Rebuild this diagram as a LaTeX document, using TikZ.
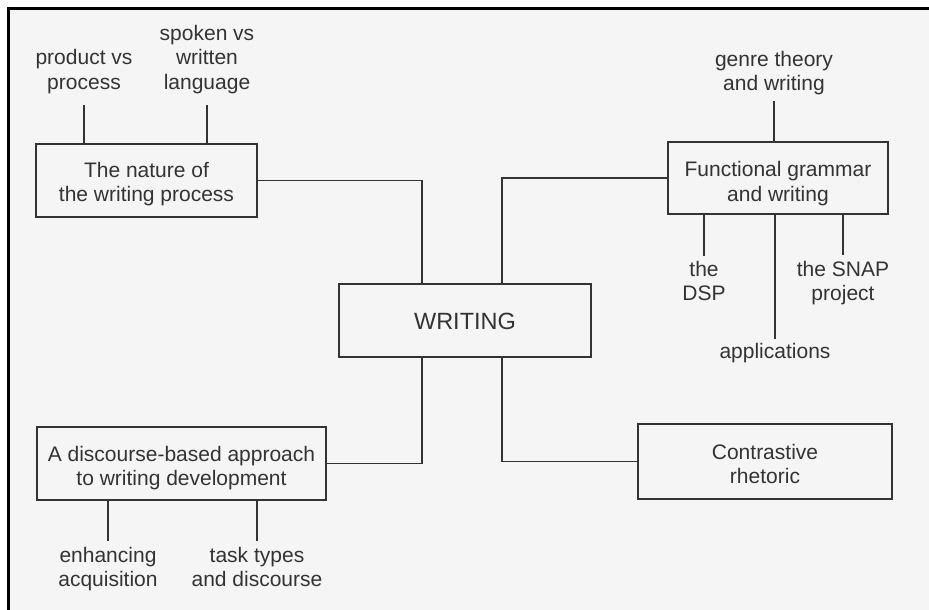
\documentclass[tikz,border=0pt]{standalone}
\usepackage{fontspec}
\setmainfont{Liberation Sans}
% invisible strut that sets the height of a box's first line
\newcommand\tpad[1]{\rule{0pt}{#1pt}}
\begin{document}
\begin{tikzpicture}[x=1pt,y=-1pt,
  ink/.style={draw=black!80, line width=1.4pt},
  topic/.style={ink, fill=white!96!black, inner sep=0pt, align=center, text=black!80,
    font=\fontsize{21}{24.5}\selectfont},
  leaf/.style={inner sep=0pt, align=center, text=black!80, font=\fontsize{21}{24.5}\selectfont, anchor=base},
  link/.style={ink, line cap=rect}]
  % page and frame
  \useasboundingbox (0,0) rectangle (929,610);
  \fill[white] (0,0) rectangle (929,610);
  \fill[white!96!black] (8.5,8.5) rectangle (929,610);
  \draw[line width=3pt] (8.5,610) -- (8.5,8.5) -- (929,8.5);

  % column coordinates of the central connectors
  \coordinate (colL) at (422,0);
  \coordinate (colR) at (502,0);

  % main topics
  \node[topic, minimum width=252pt, minimum height=73pt, font=\fontsize{23.5}{27}\selectfont] (writing) at (465,320.5) {\tpad{19}WRITING};
  \node[topic, minimum width=221pt, minimum height=73pt] (nature) at (146.5,180.5) {\tpad{22}The nature of\\the writing process};
  \node[topic, minimum width=220pt, minimum height=72pt] (functional) at (778,178) {\tpad{26}Functional grammar\\and writing};
  \node[topic, minimum width=289pt, minimum height=73pt] (discourse) at (181.5,463.5) {\tpad{24}A discourse-based approach\\to writing development};
  \node[topic, minimum width=254pt, minimum height=75pt] (contrastive) at (765,461.5) {\tpad{20.5}Contrastive\\rhetoric};

  % sub-topics (anchored at the baseline of their last line)
  \node[leaf] (product) at (84,89) {product vs\\process};
  \node[leaf] (spoken) at (207,89) {spoken vs\\written\\language};
  \node[leaf] (genre) at (774,90.5) {genre theory\\and writing};
  \node[leaf] (dsp) at (704,300.5) {the\\DSP};
  \node[leaf] (snap) at (843,300.5) {the SNAP\\project};
  \node[leaf] (applications) at (775,358) {applications};
  \node[leaf] (enhancing) at (108,586.5) {enhancing\\acquisition};
  \node[leaf] (tasks) at (257,586.5) {task types\\and discourse};

  % connectors between topics
  \draw[link] (nature.east) -| (writing.north -| colL);
  \draw[link] (functional.west) -| (writing.north -| colR);
  \draw[link] (writing.south -| colL) |- (discourse.east);
  \draw[link] (writing.south -| colR) |- (contrastive.west);

  % connectors to sub-topics
  \draw[ink] (nature.north -| product) -- ++(0,-38);
  \draw[ink] (nature.north -| spoken) -- ++(0,-38);
  \draw[ink] (functional.north -| genre) -- ++(0,-40);
  \draw[ink] (functional.south -| dsp) -- ++(0,41);
  \draw[ink] (functional.south -| snap) -- ++(0,40);
  \draw[ink] (functional.south -| applications) -- ++(0,124);
  \draw[ink] (discourse.south -| enhancing) -- ++(0,40);
  \draw[ink] (discourse.south -| tasks) -- ++(0,40);
\end{tikzpicture}
\end{document}
